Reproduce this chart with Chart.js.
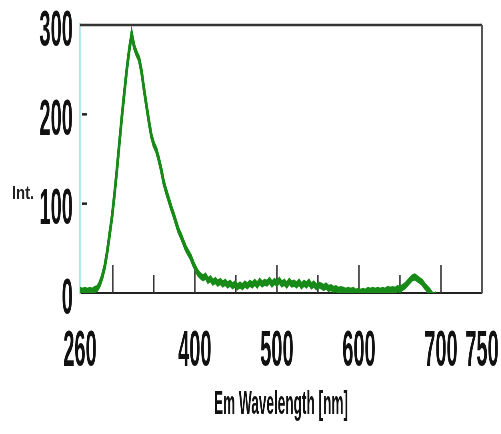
<!DOCTYPE html>
<html>
<head>
<meta charset="utf-8">
<title>Emission spectrum</title>
<script src="https://cdn.jsdelivr.net/npm/chart.js@4.4.1/dist/chart.umd.min.js"></script>
<style>
  html, body { margin: 0; padding: 0; background: #fff; overflow: hidden; }
  /* the canvas is drawn wide and squeezed horizontally to get the condensed lettering */
  #wrap { width: 1253px; height: 434px; transform: scaleX(0.4); transform-origin: 0 0; }
</style>
</head>
<body>
<div id="wrap"><canvas id="spectrum"></canvas></div>
<script>
const SQUEEZE = 0.4;

// emission wavelength (nm)
const wavelengths = [
  260, 263, 266, 269, 272, 275, 278, 281, 284, 287, 290, 293, 296, 299, 302, 305, 308, 311, 314, 317,
  320, 323, 326, 329, 332, 335, 338, 341, 344, 347, 350, 353, 356, 359, 362, 365, 368, 371, 374, 377,
  380, 383, 386, 389, 392, 395, 398, 401, 404, 407, 410, 413, 416, 419, 422, 425, 428, 431, 434, 437,
  440, 443, 446, 449, 452, 455, 458, 461, 464, 467, 470, 473, 476, 479, 482, 485, 488, 491, 494, 497,
  500, 503, 506, 509, 512, 515, 518, 521, 524, 527, 530, 533, 536, 539, 542, 545, 548, 551, 554, 557,
  560, 563, 566, 569, 572, 575, 578, 581, 584, 587, 590, 593, 596, 599, 602, 605, 608, 611, 614, 617,
  620, 623, 626, 629, 632, 635, 638, 641, 644, 647, 650, 653, 656, 659, 662, 665, 668, 671, 674, 677,
  680, 683, 686, 689, 692, 694
];

// intensity
const intensity = [
  3, 2, 3, 2, 3, 2, 4, 5, 10, 18, 29, 45, 65, 85, 110, 138, 168, 197, 224, 250,
  272, 290, 276, 268, 262, 248, 228, 210, 192, 176, 166, 160, 150, 138, 124, 114, 105, 96, 88, 79,
  70, 64, 57, 50, 45, 40, 33, 27, 22, 19, 17, 19, 14, 16, 12, 14, 11, 13, 10, 12,
  9, 11, 8, 10, 7, 9, 7, 10, 8, 11, 9, 12, 9, 13, 10, 12, 11, 14, 10, 13,
  11, 14, 10, 12, 9, 13, 10, 11, 9, 12, 8, 11, 9, 12, 8, 10, 7, 9, 8, 6,
  8, 5, 6, 4, 5, 3, 4, 3, 2, 3, 2, 3, 1, 2, 1, 2, 1, 3, 2, 3,
  2, 3, 2, 3, 2, 4, 3, 4, 3, 5, 4, 6, 8, 11, 14, 17, 18, 16, 14, 12,
  8, 5, 2, -2, -3, -2
];

const xTicks = [260, 300, 350, 400, 450, 500, 550, 600, 650, 700, 750];
const xLabeled = [260, 400, 500, 600, 700, 750];
const yTicks = [0, 50, 100, 150, 200, 250, 300];
const yLabeled = [0, 100, 200, 300];

const FAMILY = "'Liberation Sans', Arial, sans-serif";
const tickFont = { family: FAMILY, size: 50, weight: 'bold' };

// drop the label overhang so the plot box sits where the padding puts it
function noOverhang(s) {
  s.paddingLeft = 0;
  s.paddingRight = 0;
  s.paddingTop = 0;
  s.paddingBottom = 0;
}

// box frame, inward tick marks and the horizontal "Int." label
const framePlugin = {
  id: 'frame',
  beforeDatasetsDraw(chart) {
    const { ctx, chartArea: a, scales } = chart;
    ctx.save();
    ctx.strokeStyle = '#333';
    ctx.lineWidth = 2.5;
    ctx.beginPath();
    ctx.moveTo(a.left, a.top);
    ctx.lineTo(a.right, a.top);
    ctx.stroke();
    ctx.strokeStyle = '#555';
    ctx.lineWidth = 2 / SQUEEZE;
    ctx.beginPath();
    ctx.moveTo(a.right, a.top);
    ctx.lineTo(a.right, a.bottom);
    ctx.stroke();

    ctx.strokeStyle = '#333';
    ctx.lineWidth = 1.4 / SQUEEZE;
    scales.x.ticks.forEach(t => {
      if (t.value === scales.x.min || t.value === scales.x.max) return;
      const px = scales.x.getPixelForValue(t.value);
      const len = t.value % 100 === 0 ? 28 : 18;
      ctx.beginPath();
      ctx.moveTo(px, a.bottom);
      ctx.lineTo(px, a.bottom - len);
      ctx.stroke();
    });
    ctx.strokeStyle = '#222';
    ctx.lineWidth = 2.5;
    scales.y.ticks.forEach(t => {
      if (t.value === scales.y.min || t.value === scales.y.max) return;
      const py = scales.y.getPixelForValue(t.value);
      ctx.beginPath();
      ctx.moveTo(a.left + 2 / SQUEEZE, py);
      ctx.lineTo(a.left + 7 / SQUEEZE, py);
      ctx.stroke();
    });

    ctx.fillStyle = '#222';
    ctx.font = 'bold 19px ' + FAMILY;
    ctx.textBaseline = 'alphabetic';
    ctx.translate(12 / SQUEEZE, 199);
    ctx.scale(1.95, 1);
    ctx.fillText('Int.', 0, 0);
    ctx.restore();
  }
};

new Chart(document.getElementById('spectrum'), {
  type: 'line',
  data: {
    datasets: [{
      data: wavelengths.map((w, i) => ({ x: w, y: intensity[i] })),
      borderColor: 'rgb(24, 138, 24)',
      borderWidth: 7,
      pointRadius: 0,
      tension: 0
    }]
  },
  options: {
    responsive: true,
    maintainAspectRatio: false,
    animation: false,
    layout: { padding: { top: 25, right: 48, left: 0, bottom: 0 } },
    plugins: { legend: { display: false }, tooltip: { enabled: false } },
    scales: {
      x: {
        type: 'linear',
        min: 260,
        max: 750,
        afterBuildTicks: s => { s.ticks = xTicks.map(v => ({ value: v })); },
        afterFit: s => { s.height = 141; noOverhang(s); },
        grid: { drawOnChartArea: false, drawTicks: false },
        border: { color: '#222', width: 2 },
        ticks: {
          autoSkip: false,
          maxRotation: 0,
          padding: 29,
          color: '#111',
          font: tickFont,
          callback: v => xLabeled.includes(v) ? String(v) : ''
        },
        title: {
          display: true,
          text: 'Em Wavelength [nm]',
          color: '#111',
          font: { family: FAMILY, size: 34, weight: 'bold' },
          padding: { top: 0, bottom: 9 }
        }
      },
      y: {
        min: 0,
        max: 300,
        afterBuildTicks: s => { s.ticks = yTicks.map(v => ({ value: v })); },
        afterFit: s => { s.width = 200; noOverhang(s); },
        grid: { drawOnChartArea: false, drawTicks: false },
        border: { color: '#a6e6ee', width: 1.5 / SQUEEZE },
        ticks: {
          padding: 18,
          labelOffset: 7,
          color: '#111',
          font: tickFont,
          callback: v => yLabeled.includes(v) ? String(v) : ''
        }
      }
    }
  },
  plugins: [framePlugin]
});
</script>
</body>
</html>
